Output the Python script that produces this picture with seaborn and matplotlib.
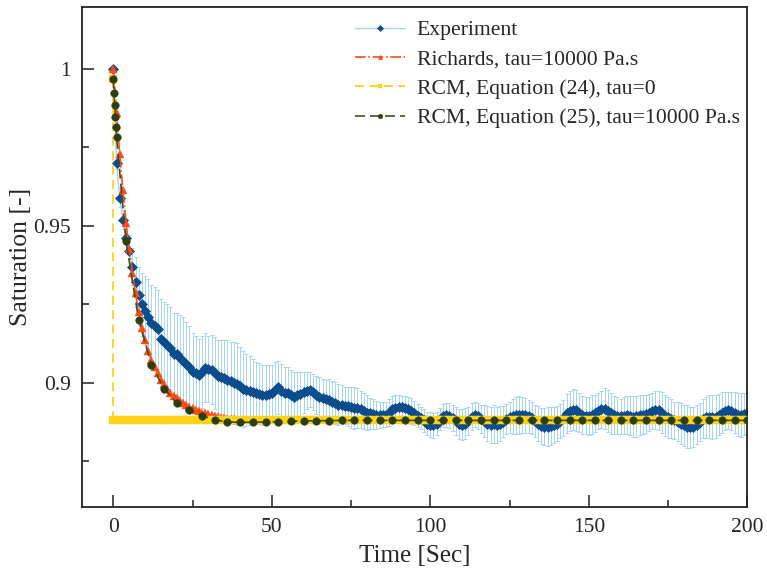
import numpy as np
import pandas as pd
import matplotlib
matplotlib.use('Agg')
import matplotlib.pyplot as plt
from matplotlib.ticker import MultipleLocator, FuncFormatter
import seaborn as sns

# --- data ---
exp_time = np.arange(0, 201, 1)
exp_sat = [
    1.0000, 0.9700, 0.9590, 0.9520, 0.9460, 0.9420, 0.9370, 0.9320, 0.9280, 0.9250,
    0.9230, 0.9210, 0.9190, 0.9180, 0.9170, 0.9140, 0.9130, 0.9120, 0.9110, 0.9090,
    0.9090, 0.9080, 0.9070, 0.9060, 0.9050, 0.9035, 0.9030, 0.9025, 0.9035, 0.9048,
    0.9045, 0.9042, 0.9032, 0.9020, 0.9018, 0.9016, 0.9010, 0.9005, 0.9000, 0.8995,
    0.8990, 0.8980, 0.8978, 0.8975, 0.8970, 0.8967, 0.8965, 0.8962, 0.8962, 0.8965,
    0.8967, 0.8978, 0.8985, 0.8975, 0.8968, 0.8968, 0.8962, 0.8956, 0.8960, 0.8965,
    0.8970, 0.8975, 0.8978, 0.8970, 0.8960, 0.8956, 0.8952, 0.8948, 0.8946, 0.8940,
    0.8935, 0.8930, 0.8930, 0.8927, 0.8925, 0.8922, 0.8920, 0.8920, 0.8915, 0.8910,
    0.8905, 0.8902, 0.8900, 0.8898, 0.8898, 0.8898, 0.8898, 0.8905, 0.8915, 0.8920,
    0.8922, 0.8922, 0.8920, 0.8915, 0.8910, 0.8904, 0.8895, 0.8888, 0.8880, 0.8870,
    0.8866, 0.8865, 0.8870, 0.8885, 0.8895, 0.8898, 0.8895, 0.8888, 0.8878, 0.8868,
    0.8866, 0.8870, 0.8877, 0.8892, 0.8898, 0.8893, 0.8885, 0.8878, 0.8870, 0.8866,
    0.8868, 0.8866, 0.8870, 0.8876, 0.8885, 0.8890, 0.8893, 0.8896, 0.8898, 0.8898,
    0.8896, 0.8893, 0.8888, 0.8878, 0.8870, 0.8862, 0.8860, 0.8860, 0.8862, 0.8865,
    0.8870, 0.8878, 0.8888, 0.8902, 0.8910, 0.8914, 0.8912, 0.8905, 0.8898, 0.8895,
    0.8895, 0.8898, 0.8902, 0.8910, 0.8915, 0.8917, 0.8910, 0.8902, 0.8898, 0.8895,
    0.8893, 0.8895, 0.8898, 0.8895, 0.8892, 0.8893, 0.8896, 0.8898, 0.8900, 0.8905,
    0.8910, 0.8914, 0.8912, 0.8905, 0.8895, 0.8890, 0.8885, 0.8880, 0.8876, 0.8870,
    0.8864, 0.8860, 0.8858, 0.8860, 0.8866, 0.8875, 0.8885, 0.8890, 0.8892, 0.8890,
    0.8892, 0.8898, 0.8905, 0.8910, 0.8912, 0.8910, 0.8905, 0.8898, 0.8898, 0.8900,
    0.8902,
]
exp_err = [
    0.0000, 0.0020, 0.0030, 0.0030, 0.0040, 0.0050, 0.0060, 0.0080, 0.0090, 0.0100,
    0.0110, 0.0120, 0.0120, 0.0125, 0.0125, 0.0128, 0.0128, 0.0130, 0.0130, 0.0132,
    0.0132, 0.0135, 0.0140, 0.0135, 0.0130, 0.0125, 0.0120, 0.0115, 0.0115, 0.0110,
    0.0105, 0.0110, 0.0115, 0.0115, 0.0118, 0.0120, 0.0125, 0.0125, 0.0130, 0.0130,
    0.0125, 0.0120, 0.0115, 0.0110, 0.0105, 0.0100, 0.0098, 0.0096, 0.0095, 0.0093,
    0.0090, 0.0088, 0.0085, 0.0085, 0.0083, 0.0082, 0.0080, 0.0078, 0.0075, 0.0070,
    0.0065, 0.0060, 0.0055, 0.0058, 0.0060, 0.0062, 0.0060, 0.0062, 0.0065, 0.0066,
    0.0066, 0.0065, 0.0062, 0.0060, 0.0062, 0.0065, 0.0066, 0.0064, 0.0060, 0.0058,
    0.0055, 0.0050, 0.0048, 0.0045, 0.0042, 0.0040, 0.0040, 0.0042, 0.0042, 0.0040,
    0.0038, 0.0036, 0.0038, 0.0040, 0.0040, 0.0038, 0.0036, 0.0035, 0.0036, 0.0038,
    0.0040, 0.0040, 0.0038, 0.0036, 0.0036, 0.0038, 0.0040, 0.0042, 0.0045, 0.0048,
    0.0050, 0.0048, 0.0045, 0.0042, 0.0040, 0.0042, 0.0045, 0.0050, 0.0055, 0.0058,
    0.0060, 0.0058, 0.0055, 0.0050, 0.0048, 0.0050, 0.0055, 0.0058, 0.0060, 0.0058,
    0.0055, 0.0052, 0.0050, 0.0052, 0.0055, 0.0058, 0.0060, 0.0062, 0.0060, 0.0058,
    0.0055, 0.0055, 0.0058, 0.0062, 0.0065, 0.0066, 0.0065, 0.0062, 0.0060, 0.0058,
    0.0060, 0.0062, 0.0060, 0.0058, 0.0060, 0.0065, 0.0066, 0.0064, 0.0060, 0.0058,
    0.0055, 0.0058, 0.0060, 0.0062, 0.0065, 0.0066, 0.0064, 0.0062, 0.0060, 0.0058,
    0.0058, 0.0060, 0.0062, 0.0065, 0.0066, 0.0065, 0.0062, 0.0060, 0.0062, 0.0065,
    0.0066, 0.0068, 0.0066, 0.0064, 0.0062, 0.0060, 0.0062, 0.0065, 0.0068, 0.0070,
    0.0068, 0.0066, 0.0064, 0.0062, 0.0060, 0.0062, 0.0065, 0.0068, 0.0070, 0.0068,
    0.0066,
]

richards_time = np.arange(0, 41, 1)
richards_sat = [
    1.0000, 0.9860, 0.9730, 0.9615, 0.9510, 0.9425, 0.9350, 0.9285, 0.9225, 0.9175,
    0.9135, 0.9100, 0.9073, 0.9050, 0.9030, 0.9010, 0.8995, 0.8980, 0.8968, 0.8958,
    0.8950, 0.8942, 0.8935, 0.8929, 0.8923, 0.8918, 0.8913, 0.8909, 0.8905, 0.8902,
    0.8899, 0.8896, 0.8893, 0.8891, 0.8889, 0.8887, 0.8885, 0.8884, 0.8883, 0.8882,
    0.8881,
]

rcm24_time = [0.0] + list(np.arange(0, 201, 2))
rcm24_sat = [0.9968] + [0.8880] * 101

rcm25_time = [0, 0.2, 0.4, 0.6, 0.8, 1.0] + list(np.arange(4, 201, 4))
rcm25_sat = [
    0.9968, 0.9923, 0.9885, 0.9848, 0.9816, 0.9784,
    0.9450, 0.9200, 0.9057, 0.8980, 0.8936, 0.8914, 0.8895, 0.8882, 0.8875, 0.8874,
    0.8874, 0.8875, 0.8876, 0.8877, 0.8878, 0.8879, 0.8879, 0.8880, 0.8880, 0.8880,
    0.8880, 0.8880, 0.8880, 0.8880, 0.8880, 0.8880, 0.8880, 0.8880, 0.8880, 0.8880,
    0.8880, 0.8880, 0.8880, 0.8880, 0.8880, 0.8880, 0.8880, 0.8880, 0.8880, 0.8880,
    0.8880, 0.8880, 0.8880, 0.8880, 0.8880, 0.8880, 0.8880, 0.8880, 0.8880, 0.8880,
]

sns.set_style('ticks')
plt.rcParams['font.family'] = ['Liberation Serif', 'DejaVu Serif']

fig = plt.figure(figsize=(7.67, 5.73), dpi=100)
ax = fig.add_axes([0.1073, 0.1157, 0.8670, 0.8726])

# experiment with error bars
ax.errorbar(exp_time, exp_sat, yerr=exp_err, fmt='none', ecolor='#a4d5f4',
            elinewidth=0.7, capsize=1.6, capthick=0.7, zorder=1)
sns.lineplot(x=exp_time, y=exp_sat, ax=ax, estimator=None, sort=False,
             color='#a9d3f0', linewidth=1.0, marker='D', markersize=5.0,
             markerfacecolor='#0b4c8c', markeredgecolor='#0b4c8c',
             markeredgewidth=0.5, label='Experiment', zorder=2)

sns.lineplot(x=richards_time, y=richards_sat, ax=ax, estimator=None, sort=False,
             color='#ff4a14', linewidth=1.2, linestyle='-.', marker='^',
             markersize=5.2, markerfacecolor='#ff4a14', markeredgecolor='#ff4a14',
             markeredgewidth=0.3, label='Richards, tau=10000 Pa.s', zorder=3)

sns.lineplot(x=rcm24_time, y=rcm24_sat, ax=ax, estimator=None, sort=False,
             color='#ffd21a', linewidth=1.3, linestyle=(0, (5, 3)), marker='s',
             markersize=5.8, markerfacecolor='#ffd21a', markeredgecolor='#ffd21a',
             markeredgewidth=0.3, label='RCM, Equation (24), tau=0', zorder=4)

sns.lineplot(x=rcm25_time, y=rcm25_sat, ax=ax, estimator=None, sort=False,
             color='#3b5220', linewidth=1.2, linestyle=(0, (6, 3)), marker='o',
             markersize=5.5, markerfacecolor='#2c3d10', markeredgecolor='#2c3d10',
             markeredgewidth=0.3, label='RCM, Equation (25), tau=10000 Pa.s', zorder=5)

ax.set_xlim(-9.8, 200)
ax.set_ylim(0.8605, 1.0198)
ax.xaxis.set_major_locator(MultipleLocator(50))
ax.xaxis.set_minor_locator(MultipleLocator(25))
ax.yaxis.set_major_locator(MultipleLocator(0.05))
ax.yaxis.set_minor_locator(MultipleLocator(0.025))
ax.yaxis.set_major_formatter(FuncFormatter(lambda v, p: f'{v:g}'))

ax.tick_params(which='major', direction='in', length=8.5, width=1.1,
               labelsize=15.5, color='#222222', pad=8)
ax.tick_params(which='minor', direction='in', length=4.7, width=1.1, color='#222222')
ax.tick_params(top=False, right=False, which='both')
for s in ax.spines.values():
    s.set_linewidth(1.3)
    s.set_color('#222222')

ax.set_xlabel('Time [Sec]', fontsize=18, labelpad=6)
ax.set_ylabel('Saturation [-]', fontsize=18.5, labelpad=1)

ax.legend(loc='upper left', bbox_to_anchor=(0.41, 0.973), frameon=False,
          fontsize=15.6, handlelength=2.3, handletextpad=0.55, labelspacing=0.42,
          borderaxespad=0, borderpad=0, markerscale=0.6)

fig.savefig('out.png', dpi=100)
